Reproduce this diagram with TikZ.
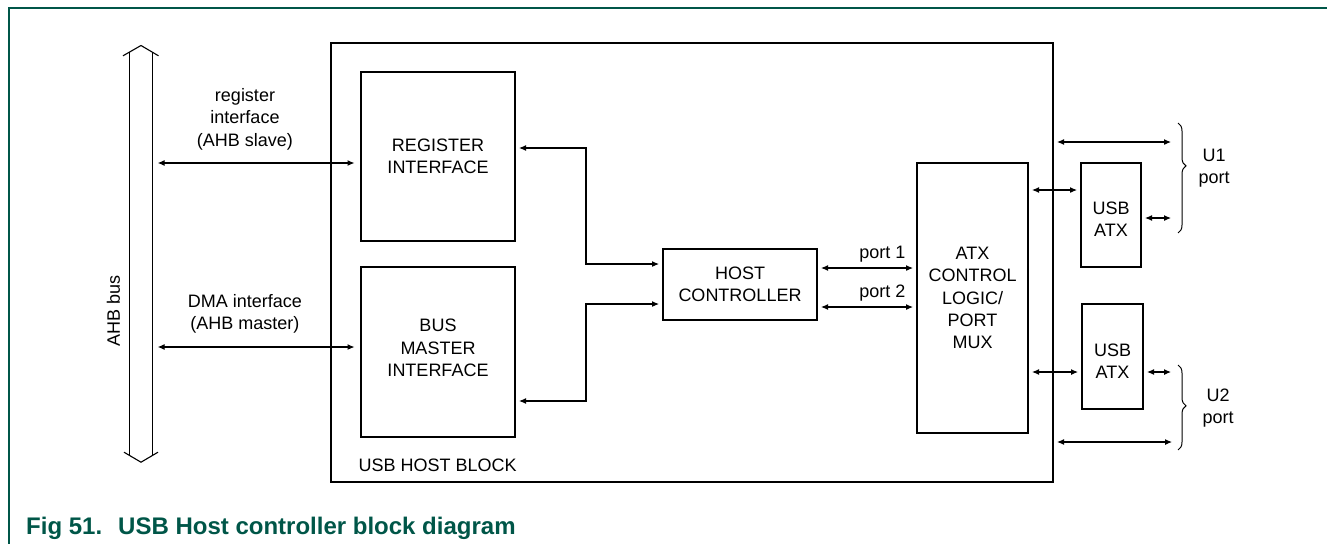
\documentclass[tikz,border=0pt]{standalone}
\usepackage{fontspec}
\setmainfont{Liberation Sans}
\usetikzlibrary{arrows.meta,decorations.pathreplacing}
\definecolor{nxpgreen}{RGB}{0,86,72}

\begin{document}
\begin{tikzpicture}[x=1pt,y=-1pt,>={Latex[length=7pt,width=6pt]},
  every node/.style={font=\fontsize{18}{22.4}\selectfont,align=center},
  blk/.style={draw,line width=2pt,inner sep=0pt},
  link/.style={<->,line width=1.1pt,shorten <=3pt,shorten >=3pt},
  portbrace/.style={decorate,decoration={brace,amplitude=8pt,aspect=#1},line width=1pt}]
\useasboundingbox (0,0) rectangle (1327,544);
\draw[nxpgreen,line width=1.5pt] (1327,8) -- (9,8) -- (9,544);

\node[blk,minimum width=722,minimum height=439] (usbblk) at (692,262.5) {};
\node[anchor=base west] (blkname) at (355,471) {USB HOST BLOCK};
\node[blk,minimum width=154,minimum height=169] (regif) at (438,156.5) {REGISTER\\INTERFACE};
\node[blk,minimum width=154,minimum height=170,label={[yshift=4pt]center:BUS\\MASTER\\INTERFACE}] (busmif) at (438,352) {};
\node[blk,minimum width=154,minimum height=71] (hostc) at (740,284.5) {HOST\\CONTROLLER};
\node[blk,minimum width=111,minimum height=270] (atx) at (972.5,298) {ATX\\CONTROL\\LOGIC/\\PORT\\MUX};
\node[blk,minimum width=60,minimum height=104,label={[yshift=-4.5pt]center:USB\\ATX}] (atxa) at (1111,215) {};
\node[blk,minimum width=61,minimum height=105,label={[yshift=-5pt]center:USB\\ATX}] (atxb) at (1112.5,356.5) {};

\node[minimum width=22,minimum height=404,inner sep=0pt] (ahb) at (141,254) {};
\draw[line width=1.1pt] (ahb.north west) -- (ahb.south west) (ahb.north east) -- (ahb.south east);
\draw[line width=1.1pt] ([shift={(-18,4)}]ahb.north) -- ([shift={(0,-6.3)}]ahb.north) -- ([shift={(17.5,4)}]ahb.north);
\draw[line width=1.1pt] ([shift={(-17,-4)}]ahb.south) -- ([shift={(0,6)}]ahb.south) -- ([shift={(17,-4)}]ahb.south);
\node[rotate=90] (ahbname) at (113.5,311) {AHB bus};

\node (reglbl) at (245,119) {register\\interface\\(AHB slave)};
\node (dmalbl) at (245,314) {DMA interface\\(AHB master)};
\draw[link,shorten <=5.5pt,shorten >=5.5pt] (ahb.east |- 0,163) -- (regif.west |- 0,163);
\draw[link,shorten <=5.5pt,shorten >=5.5pt] (ahb.east |- 0,347) -- (busmif.west |- 0,347);

\draw[link] (regif.east |- 0,148) -- (586,148) |- (hostc.west |- 0,264);
\draw[link] (busmif.east |- 0,401) -- (586,401) |- (hostc.west |- 0,304);

\draw[link] (hostc.east |- 0,268) -- (atx.west |- 0,268);
\draw[link] (hostc.east |- 0,307) -- (atx.west |- 0,307);
\node[anchor=base east] (p1) at (909,258) {port 1};
\node[anchor=base east] (p2) at (909,297.5) {port 2};

\draw[link] (atx.east |- 0,190) -- (atxa.west |- 0,190);
\draw[link] (atx.east |- 0,372) -- (atxb.west |- 0,372);

\coordinate (u1top) at (1174,142);
\coordinate (u1atx) at (1174,218);
\coordinate (u2atx) at (1174,372);
\coordinate (u2bot) at (1175,442);
\draw[link] (usbblk.east |- u1top) -- (u1top);
\draw[link] (atxa.east |- u1atx) -- (u1atx);
\draw[link] (atxb.east |- u2atx) -- (u2atx);
\draw[link] (usbblk.east |- u2bot) -- (u2bot);

\draw[portbrace=0.39] (1178,123) -- (1178,233);
\draw[portbrace=0.48] (1178,365) -- (1178,450);
\node (u1) at (1214,168) {U1\\port};
\node (u2) at (1218,408) {U2\\port};

\node[anchor=base west,inner sep=0pt,text=nxpgreen,font=\fontsize{24}{28}\selectfont\bfseries] (caption) at (26,534) {Fig 51.\hspace{16pt}USB Host controller block diagram};
\end{tikzpicture}
\end{document}
